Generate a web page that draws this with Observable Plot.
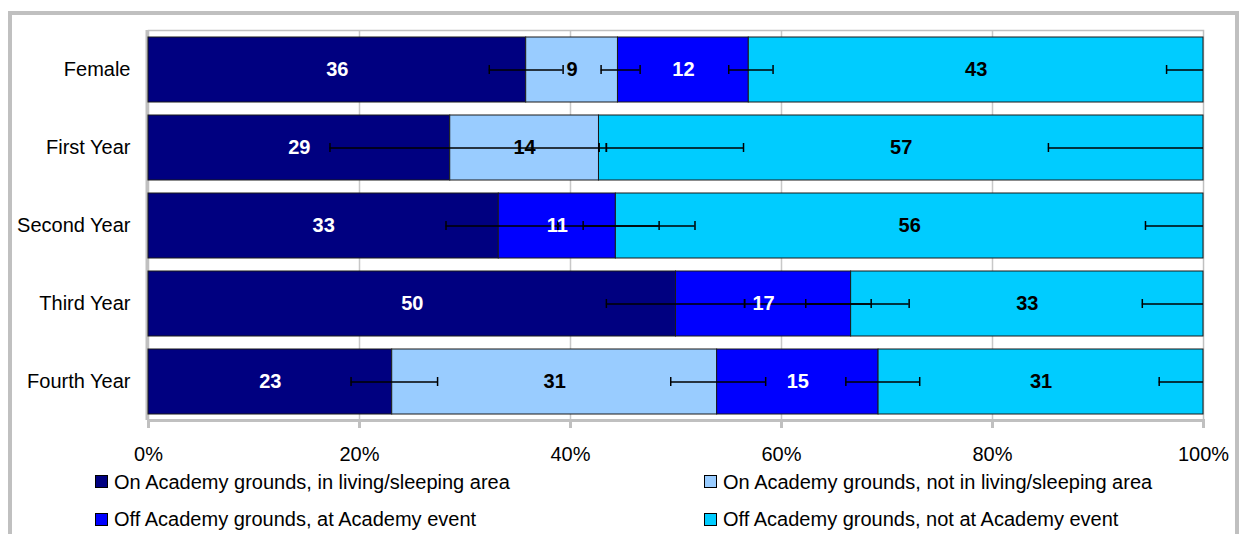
<!DOCTYPE html>
<html>
<head>
<meta charset="utf-8">
<script src="https://cdn.jsdelivr.net/npm/d3@7"></script>
<script src="https://cdn.jsdelivr.net/npm/@observablehq/plot@0.6"></script>
<style>
html, body { margin: 0; padding: 0; background: #fff; }
#wrap { position: relative; width: 1239px; height: 534px; overflow: hidden; font-family: "Liberation Sans", Arial, sans-serif; }
#border { position: absolute; left: 8px; top: 11px; width: 1231px; height: 620px; border: 4px solid #c0c0c0; box-sizing: border-box; }
#chart { position: absolute; left: 0; top: 0; }
.leg { position: absolute; font-size: 20px; line-height: 24px; color: #000; white-space: nowrap; }
.sw { position: absolute; width: 11px; height: 11px; border: 1px solid #000; }
</style>
</head>
<body>
<div id="wrap"><div id="border"></div><div id="chart"></div><div id="legend"></div></div>
<script>
const categories = ["Female", "First Year", "Second Year", "Third Year", "Fourth Year"];
const seriesNames = [
  "On Academy grounds, in living/sleeping area",
  "On Academy grounds, not in living/sleeping area",
  "Off Academy grounds, at Academy event",
  "Off Academy grounds, not at Academy event"
];
const seriesColors = ["#000080", "#99ccff", "#0000ff", "#00ccff"];
const labelColors = ["#ffffff", "#000000", "#ffffff", "#000000"];

// percentages per category (same order as categories)
const inLivingArea    = [35.8, 28.6, 33.2, 50.0, 23.1];
const notInLivingArea = [8.7, 14.1, 0, 0, 30.8];
const atAcademyEvent  = [12.4, 0, 11.1, 16.6, 15.3];
const notAtEvent      = [43.1, 57.3, 55.7, 33.4, 30.8];
const seriesValues = [inLivingArea, notInLivingArea, atAcademyEvent, notAtEvent];

// error bars: [category, low, high] (percent)
const errorBars = [
  ["Female", 32.3, 39.3], ["Female", 42.9, 46.6], ["Female", 55.0, 59.2], ["Female", 96.5, 103.5],
  ["First Year", 17.2, 42.7], ["First Year", 42.7, 43.4], ["First Year", 43.4, 56.4], ["First Year", 85.3, 114.7],
  ["Second Year", 28.2, 38.8], ["Second Year", 38.8, 51.8], ["Second Year", 41.2, 48.4], ["Second Year", 94.5, 105.5],
  ["Third Year", 43.4, 56.5], ["Third Year", 56.5, 68.5], ["Third Year", 62.3, 72.1], ["Third Year", 94.2, 105.8],
  ["Fourth Year", 19.2, 27.4], ["Fourth Year", 49.5, 58.5], ["Fourth Year", 66.1, 73.1], ["Fourth Year", 95.8, 104.2]
];

const xTicks = [0, 20, 40, 60, 80, 100];

const rows = categories.flatMap((c, i) => seriesNames.map((s, j) => ({cat: c, series: s, idx: j, value: seriesValues[j][i]})));
const caps = errorBars.flatMap(([c, lo, hi]) => [[c, lo], [c, hi]]).filter(d => d[1] <= 100);

const FONT = "'Liberation Sans', Arial, sans-serif";

const chart = Plot.plot({
  width: 1239,
  height: 470,
  marginLeft: 148,
  marginRight: 36,
  marginTop: 30,
  marginBottom: 50,
  style: {fontFamily: FONT, fontSize: "20px", background: "transparent", color: "#000", overflow: "visible"},
  x: {domain: [0, 100], label: null},
  y: {domain: categories, paddingInner: 0.167, paddingOuter: 0.0835, label: null},
  color: {type: "identity"},
  marks: [
    Plot.gridX(xTicks.filter(t => t > 0 && t < 100), {stroke: "#c8c8c8", strokeOpacity: 1, strokeWidth: 1.5}),
    Plot.frame({stroke: "#c0c0c0", strokeWidth: 1.5}),
    Plot.ruleX([0], {stroke: "#c0c0c0", strokeWidth: 3, dx: -1.5}),
    Plot.frame({anchor: "bottom", stroke: "#c0c0c0", strokeWidth: 3}),
    Plot.barX(rows.filter(d => d.value > 0), {
      x: "value", y: "cat", z: "series", order: seriesNames,
      fill: d => seriesColors[d.idx], stroke: "#1a1a1a", strokeWidth: 1
    }),
    Plot.ruleY(errorBars, {y: d => d[0], x1: d => d[1], x2: d => Math.min(d[2], 100), stroke: "#000", strokeWidth: 1.5}),
    Plot.tickX(caps, {x: d => d[1], y: d => d[0], stroke: "#000", strokeWidth: 1.5, insetTop: 28, insetBottom: 28}),
    Plot.text(rows, Plot.stackX({
      x: "value", y: "cat", z: "series", order: seriesNames,
      text: d => d.value > 0 ? String(Math.round(d.value)) : "",
      fill: d => labelColors[d.idx], fontWeight: "bold", fontSize: 20
    })),
    Plot.axisX(xTicks, {tickSize: 8, tickPadding: 18, stroke: "#c0c0c0", strokeWidth: 3, fill: "#000", fontSize: 20, tickFormat: d => d + "%"}),
    Plot.axisY({tickSize: 0, tickPadding: 18, fill: "#000", fontSize: 20})
  ]
});
document.getElementById("chart").appendChild(chart);

// legend (2 columns x 2 rows)
const legendPos = [[95, 481.5], [704, 481.5], [95, 519], [704, 519]];
const legend = document.getElementById("legend");
seriesNames.forEach((name, i) => {
  const [lx, ly] = legendPos[i];
  const sw = document.createElement("div");
  sw.className = "sw";
  sw.style.left = lx + "px";
  sw.style.top = (ly - 6.5) + "px";
  sw.style.background = seriesColors[i];
  legend.appendChild(sw);
  const t = document.createElement("div");
  t.className = "leg";
  t.style.left = (lx + 19) + "px";
  t.style.top = (ly - 12) + "px";
  t.textContent = name;
  legend.appendChild(t);
});
</script>
</body>
</html>
